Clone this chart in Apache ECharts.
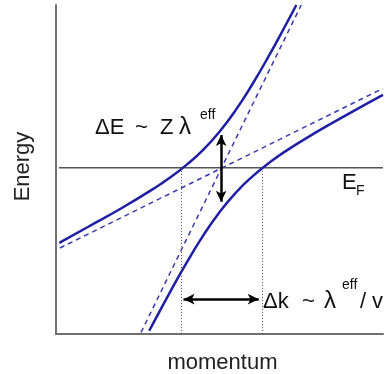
<!DOCTYPE html>
<html>
<head>
<meta charset="utf-8">
<style>
  html, body { margin: 0; padding: 0; background: #fff; }
  #chart { width: 389px; height: 374px; }
</style>
<script src="https://cdn.jsdelivr.net/npm/echarts@6/dist/echarts.min.js"></script>
</head>
<body>
<div id="chart"></div>
<script>
// Hybridised bands (solid) and the bare bands they come from (dashed)
const upperK = [0.1, 1, 2, 3, 3.5, 4, 4.5, 5, 5.5, 6, 6.5, 7, 7.35];
const upperE = [-2.30, -1.80, -1.24, -0.63, -0.29, 0.10, 0.55, 1.11, 1.78, 2.56, 3.42, 4.34, 5.0];
const lowerK = [2.85, 3, 3.5, 4, 4.5, 5, 5.5, 6, 6.5, 7, 8, 9, 10];
const lowerE = [-5.0, -4.72, -3.79, -2.90, -2.08, -1.36, -0.76, -0.27, 0.14, 0.50, 1.12, 1.69, 2.24];
const steepK = [2.60, 7.50];
const steepE = [-5.05, 5.0];
const shallowK = [0.12, 10.0];
const shallowE = [-2.46, 2.44];

// Fermi level and the two Fermi crossings
const fermiK = [0.09, 10];
const fermiE = [0, 0];
const crossK = [3.84, 6.30];
const axisBottomE = -5.1;

// Gap arrow (ΔE) and momentum-shift arrow (Δk)
const gapK = 5.05;
const gapE = [1.01, -1.04];
const shiftE = -4.03;
const shiftK = [3.9, 6.2];

const pairs = (xs, ys) => xs.map((x, i) => [x, ys[i]]);

const FONT = '"Liberation Sans", Arial, Helvetica, sans-serif';
const SOLID = '#1f1fa6';
const DASHED = '#3a3aae';
const INK = '#111';

const chart = echarts.init(document.getElementById('chart'), null, { renderer: 'canvas' });

function txt(x, y, text, size) {
  return { type: 'text', x: x, y: y, silent: true,
    style: { text: text, font: size + 'px ' + FONT, fill: INK, verticalAlign: 'middle' } };
}

const option = {
  animation: false,
  backgroundColor: '#ffffff',
  grid: { left: 56, right: 6, top: 5, bottom: 40, outerBoundsMode: 'none', containLabel: false },
  xAxis: {
    type: 'value', min: 0, max: 10,
    name: 'momentum', nameLocation: 'middle', nameGap: 18,
    nameTextStyle: { fontFamily: FONT, fontSize: 22, color: '#222', padding: [0, 0, 0, 6] },
    axisLine: { show: true, onZero: false, lineStyle: { color: '#707070', width: 2 } },
    axisTick: { show: false }, axisLabel: { show: false }, splitLine: { show: false }
  },
  yAxis: {
    type: 'value', min: axisBottomE, max: 5,
    name: 'Energy', nameLocation: 'middle', nameGap: 22, nameRotate: 90,
    nameTextStyle: { fontFamily: FONT, fontSize: 22, color: '#222', padding: [0, 0, 0, 6] },
    axisLine: { show: true, onZero: false, lineStyle: { color: '#707070', width: 2 } },
    axisTick: { show: false }, axisLabel: { show: false }, splitLine: { show: false }
  },
  series: [
    {
      type: 'line', data: pairs(fermiK, fermiE), showSymbol: false, silent: true,
      lineStyle: { color: '#555', width: 1.5 },
      markLine: {
        silent: true, symbol: ['none', 'none'], label: { show: false },
        lineStyle: { color: '#444', width: 1, type: [1, 2] },
        data: crossK.map(k => [{ coord: [k, 0] }, { coord: [k, axisBottomE] }])
      }
    },
    {
      type: 'line', data: pairs(steepK, steepE), showSymbol: false, silent: true,
      lineStyle: { color: DASHED, width: 1.5, type: [5, 4] }
    },
    {
      type: 'line', data: pairs(shallowK, shallowE), showSymbol: false, silent: true,
      lineStyle: { color: DASHED, width: 1.5, type: [5, 4] }
    },
    {
      type: 'line', data: pairs(upperK, upperE), showSymbol: false, silent: true,
      smooth: true,
      lineStyle: { color: SOLID, width: 2.5 }
    },
    {
      type: 'line', data: pairs(lowerK, lowerE), showSymbol: false, silent: true,
      smooth: true,
      lineStyle: { color: SOLID, width: 2.5 },
      markLine: {
        silent: true, symbol: ['arrow', 'arrow'], symbolSize: [8, 11], label: { show: false },
        lineStyle: { color: '#000', width: 2.5, type: 'solid' },
        itemStyle: { color: '#000' },
        data: [
          [{ coord: [gapK, gapE[0]] }, { coord: [gapK, gapE[1]] }],
          [{ coord: [shiftK[0], shiftE] }, { coord: [shiftK[1], shiftE] }]
        ]
      }
    }
  ],
  graphic: [
    txt(95, 128, 'ΔE', 22), txt(135, 128, '~', 22), txt(160, 128, 'Z', 22), txt(179, 127, 'λ', 24),
    txt(200, 115, 'eff', 14),
    txt(263, 302, 'Δk', 22), txt(302, 302, '~', 22), txt(324, 301, 'λ', 24),
    txt(342, 285, 'eff', 14), txt(360, 302, '/', 22), txt(372, 302, 'v', 22),
    txt(342, 183, 'E', 22), txt(356, 191, 'F', 14)
  ]
};

chart.setOption(option);
</script>
</body>
</html>
